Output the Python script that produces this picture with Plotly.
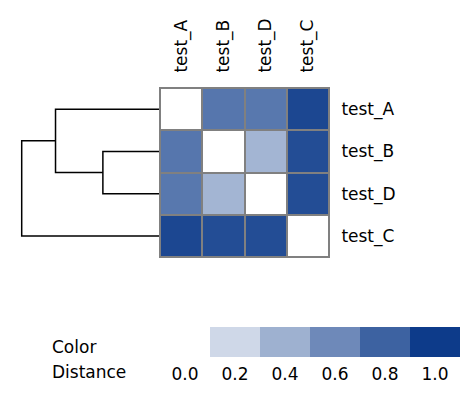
import plotly.graph_objects as go

# ---- data ----
labels = ["test_A", "test_B", "test_D", "test_C"]
dist = [
    [0.00, 0.70, 0.69, 0.94],
    [0.70, 0.00, 0.38, 0.91],
    [0.69, 0.38, 0.00, 0.91],
    [0.94, 0.91, 0.91, 0.00],
]
legend_values = [0.0, 0.2, 0.4, 0.6, 0.8, 1.0]
legend_labels = ["0.0", "0.2", "0.4", "0.6", "0.8", "1.0"]

PAGE_W, PAGE_H = 471, 394
OFF = 8  # default body margin of the html page
W, H = PAGE_W - 2 * OFF, PAGE_H - 2 * OFF
FONT = "DejaVu Sans"
FS = 17
cscale = [[0, "#ffffff"], [1, "#0d3b8a"]]

# ---- average-linkage (UPGMA) clustering to build the dendrogram ----
n = len(labels)
clusters = {i: {"members": [i], "pos": float(i), "h": 0.0} for i in range(n)}
segments = []
next_id = n
while len(clusters) > 1:
    keys = list(clusters)
    best = None
    for a in range(len(keys)):
        for b in range(a + 1, len(keys)):
            ca, cb = clusters[keys[a]], clusters[keys[b]]
            d = sum(dist[i][j] for i in ca["members"] for j in cb["members"]) / (
                len(ca["members"]) * len(cb["members"]))
            if best is None or d < best[0]:
                best = (d, keys[a], keys[b])
    d, ka, kb = best
    ca, cb = clusters.pop(ka), clusters.pop(kb)
    segments.append(([ca["h"], d, d, cb["h"]], [ca["pos"], ca["pos"], cb["pos"], cb["pos"]]))
    clusters[next_id] = {"members": ca["members"] + cb["members"],
                         "pos": (ca["pos"] + cb["pos"]) / 2, "h": d}
    next_id += 1
root_h = max(s[0][1] for s in segments)

fig = go.Figure()

idx = list(range(n))
fig.add_trace(go.Heatmap(
    z=dist, x=idx, y=idx, colorscale=cscale, zmin=0, zmax=1,
    showscale=False, xgap=2, ygap=2, xaxis="x", yaxis="y", hoverinfo="z"))

for xs, ys in segments:
    fig.add_trace(go.Scatter(x=xs, y=ys, mode="lines",
                             line=dict(color="black", width=1.5),
                             xaxis="x2", yaxis="y2", showlegend=False,
                             hoverinfo="skip"))

fig.add_trace(go.Heatmap(
    z=[legend_values], x=list(range(len(legend_values))), y=[0],
    colorscale=cscale, zmin=0, zmax=1, showscale=False,
    xaxis="x3", yaxis="y3", hoverinfo="skip"))

# page pixel -> paper fraction
px = lambda v: (v - OFF) / W
py = lambda v: 1 - (v - OFF) / H

hm_l, hm_r, hm_t, hm_b = 160, 329, 88, 257
leaf_x, root_x = 160, 21.7
dend_l = OFF
dend_range = root_h * (hm_l - dend_l) / (leaf_x - root_x)

tickfont = dict(family=FONT, size=FS, color="black")
fig.update_layout(
    width=W, height=H, margin=dict(l=0, r=0, t=0, b=0),
    paper_bgcolor="white", plot_bgcolor="white",
    font=dict(family=FONT, size=FS, color="black"),
    xaxis=dict(domain=[px(hm_l), px(hm_r)], anchor="y", side="top",
               tickvals=idx, ticktext=labels, tickangle=-90, tickfont=tickfont,
               ticks="outside", ticklen=11, tickcolor="rgba(0,0,0,0)",
               showgrid=False, zeroline=False, showline=False,
               range=[-0.5, n - 0.5]),
    yaxis=dict(domain=[py(hm_b), py(hm_t)], anchor="x", side="right",
               tickvals=idx, ticktext=labels, tickfont=tickfont,
               ticks="outside", ticklen=8, tickcolor="rgba(0,0,0,0)",
               showgrid=False, zeroline=False, showline=False,
               range=[n - 0.5, -0.5]),
    xaxis2=dict(domain=[0, px(hm_l)], anchor="y2", range=[dend_range, 0],
                visible=False),
    yaxis2=dict(domain=[py(hm_b), py(hm_t)], anchor="x2",
                range=[n - 0.5, -0.5], visible=False),
    xaxis3=dict(domain=[px(160), px(460)], anchor="y3",
                tickvals=list(range(len(legend_values))), ticktext=legend_labels,
                tickfont=tickfont, ticks="outside", ticklen=2,
                tickcolor="rgba(0,0,0,0)", showgrid=False, zeroline=False,
                showline=False, range=[-0.5, len(legend_values) - 0.5]),
    yaxis3=dict(domain=[py(357), py(327)], anchor="x3", visible=False,
                range=[-0.5, 0.5]),
    shapes=[
        dict(type="rect", xref="x domain", yref="y domain", x0=0, x1=1, y0=0, y1=1,
             fillcolor="#808080", line=dict(width=0), layer="below"),
        dict(type="rect", xref="x domain", yref="y domain", x0=0, x1=1, y0=0, y1=1,
             line=dict(color="#808080", width=2), layer="above"),
    ],
    annotations=[
        dict(text="Color", xref="paper", yref="paper", x=px(50), y=py(347),
             xanchor="left", yanchor="middle", showarrow=False,
             font=dict(family=FONT, size=FS, color="black")),
        dict(text="Distance", xref="paper", yref="paper", x=px(50), y=py(372),
             xanchor="left", yanchor="middle", showarrow=False,
             font=dict(family=FONT, size=FS, color="black")),
    ],
)

fig.write_html("out.html")
